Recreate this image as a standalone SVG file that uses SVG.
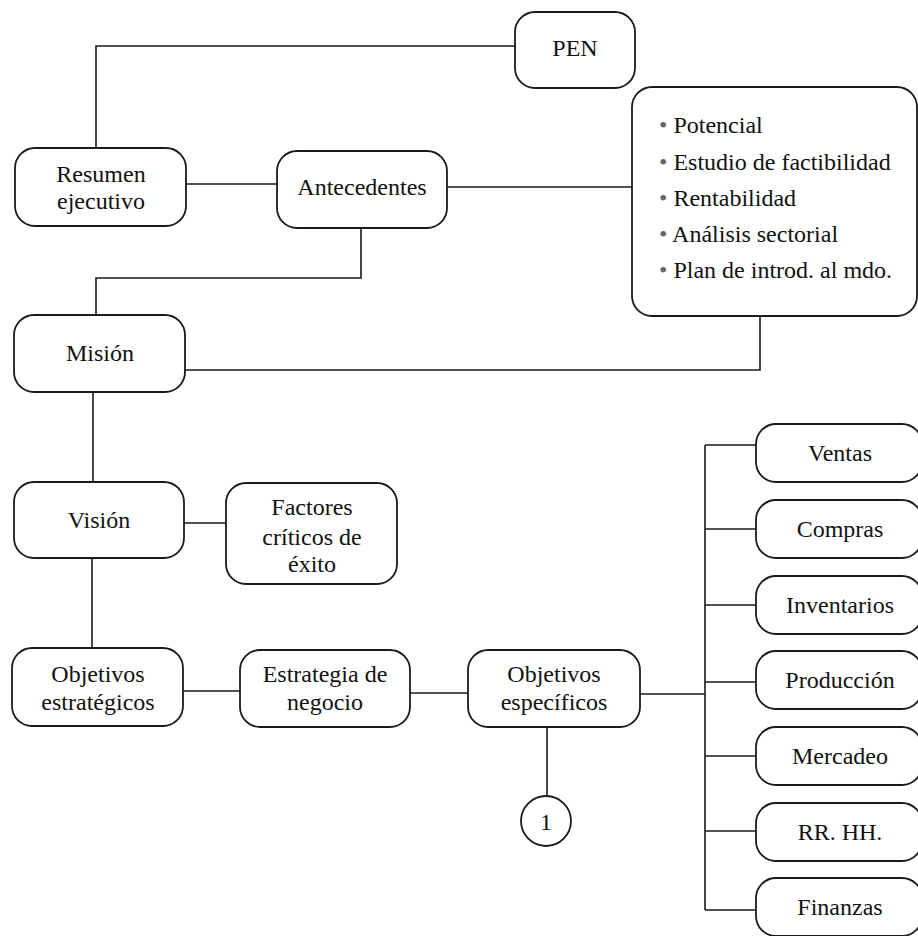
<svg xmlns="http://www.w3.org/2000/svg" width="918" height="936" viewBox="0 0 918 936">
  <style>
    .box { fill: #ffffff; stroke: #1a1a1a; stroke-width: 1.8; }
    .wire { fill: none; stroke: #1a1a1a; stroke-width: 1.6; }
    .lbl { font-size: 24px; fill: #111111; text-anchor: middle; }
    .item { font-size: 24px; fill: #111111; }
    .dot { fill: #666666; }
  </style>
  <rect width="918" height="936" fill="#ffffff"/>

  <!-- connectors -->
  <g id="connectors" class="wire">
    <polyline points="96,148 96,46 515,46"/>
    <line x1="186" y1="184" x2="277" y2="184"/>
    <line x1="447" y1="187" x2="632" y2="187"/>
    <polyline points="361,228 361,278 96,278 96,315"/>
    <polyline points="760,316 760,370 185,370"/>
    <line x1="93" y1="392" x2="93" y2="482"/>
    <line x1="184" y1="523" x2="226" y2="523"/>
    <line x1="92" y1="558" x2="92" y2="648"/>
    <line x1="183" y1="691" x2="240" y2="691"/>
    <line x1="410" y1="693" x2="468" y2="693"/>
    <line x1="640" y1="694" x2="705" y2="694"/>
    <line x1="547" y1="727" x2="547" y2="796"/>
    <line x1="705" y1="445" x2="705" y2="910"/>
    <line x1="705" y1="445" x2="756" y2="445"/>
    <line x1="705" y1="529" x2="756" y2="529"/>
    <line x1="705" y1="605" x2="756" y2="605"/>
    <line x1="705" y1="682" x2="756" y2="682"/>
    <line x1="705" y1="756" x2="756" y2="756"/>
    <line x1="705" y1="831" x2="756" y2="831"/>
    <line x1="705" y1="910" x2="756" y2="910"/>
  </g>

  <!-- nodes; all labels share one serif face -->
  <g id="nodes" font-family="'Liberation Serif', 'DejaVu Serif', serif">
  <g id="pen">
    <rect class="box" x="515" y="12" width="120" height="76" rx="20"/>
    <text class="lbl" x="575" y="56">PEN</text>
  </g>
  <g id="resumen">
    <rect class="box" x="15" y="148" width="171" height="78" rx="20"/>
    <text class="lbl" x="101" y="182">Resumen</text>
    <text class="lbl" x="101" y="209">ejecutivo</text>
  </g>
  <g id="antecedentes">
    <rect class="box" x="277" y="151" width="170" height="77" rx="20"/>
    <text class="lbl" x="362" y="195">Antecedentes</text>
  </g>
  <g id="detalle-antecedentes">
    <rect class="box" x="632" y="87" width="285" height="229" rx="20"/>
    <text class="item" x="659" y="133"><tspan class="dot">•</tspan> Potencial</text>
    <text class="item" x="659" y="170"><tspan class="dot">•</tspan> Estudio de factibilidad</text>
    <text class="item" x="659" y="206"><tspan class="dot">•</tspan> Rentabilidad</text>
    <text class="item" x="659" y="242"><tspan class="dot">•</tspan> Análisis sectorial</text>
    <text class="item" x="659" y="278"><tspan class="dot">•</tspan> Plan de introd. al mdo.</text>
  </g>
  <g id="mision">
    <rect class="box" x="14" y="315" width="171" height="77" rx="20"/>
    <text class="lbl" x="100" y="361">Misión</text>
  </g>
  <g id="vision">
    <rect class="box" x="14" y="482" width="170" height="76" rx="20"/>
    <text class="lbl" x="99" y="528">Visión</text>
  </g>
  <g id="factores">
    <rect class="box" x="226" y="483" width="171" height="101" rx="20"/>
    <text class="lbl" x="312" y="515">Factores</text>
    <text class="lbl" x="312" y="545">críticos de</text>
    <text class="lbl" x="312" y="572">éxito</text>
  </g>
  <g id="objetivos-estrategicos">
    <rect class="box" x="12" y="648" width="171" height="78" rx="20"/>
    <text class="lbl" x="98" y="682">Objetivos</text>
    <text class="lbl" x="98" y="710">estratégicos</text>
  </g>
  <g id="estrategia">
    <rect class="box" x="240" y="650" width="170" height="77" rx="20"/>
    <text class="lbl" x="325" y="682">Estrategia de</text>
    <text class="lbl" x="325" y="710">negocio</text>
  </g>
  <g id="objetivos-especificos">
    <rect class="box" x="468" y="650" width="172" height="77" rx="20"/>
    <text class="lbl" x="554" y="682">Objetivos</text>
    <text class="lbl" x="554" y="710">específicos</text>
  </g>
  <g id="conector-1">
    <circle class="box" cx="546" cy="821" r="25"/>
    <text class="lbl" x="546" y="830">1</text>
  </g>
  <g id="ventas">
    <rect class="box" x="756" y="424" width="166" height="58" rx="20"/>
    <text class="lbl" x="840" y="461">Ventas</text>
  </g>
  <g id="compras">
    <rect class="box" x="756" y="500" width="166" height="58" rx="20"/>
    <text class="lbl" x="840" y="537">Compras</text>
  </g>
  <g id="inventarios">
    <rect class="box" x="756" y="576" width="166" height="58" rx="20"/>
    <text class="lbl" x="840" y="613">Inventarios</text>
  </g>
  <g id="produccion">
    <rect class="box" x="756" y="651" width="166" height="58" rx="20"/>
    <text class="lbl" x="840" y="688">Producción</text>
  </g>
  <g id="mercadeo">
    <rect class="box" x="756" y="727" width="166" height="58" rx="20"/>
    <text class="lbl" x="840" y="764">Mercadeo</text>
  </g>
  <g id="rrhh">
    <rect class="box" x="756" y="803" width="166" height="58" rx="20"/>
    <text class="lbl" x="840" y="840">RR. HH.</text>
  </g>
  <g id="finanzas">
    <rect class="box" x="756" y="878" width="166" height="58" rx="20"/>
    <text class="lbl" x="840" y="915">Finanzas</text>
  </g>
  </g>
</svg>
